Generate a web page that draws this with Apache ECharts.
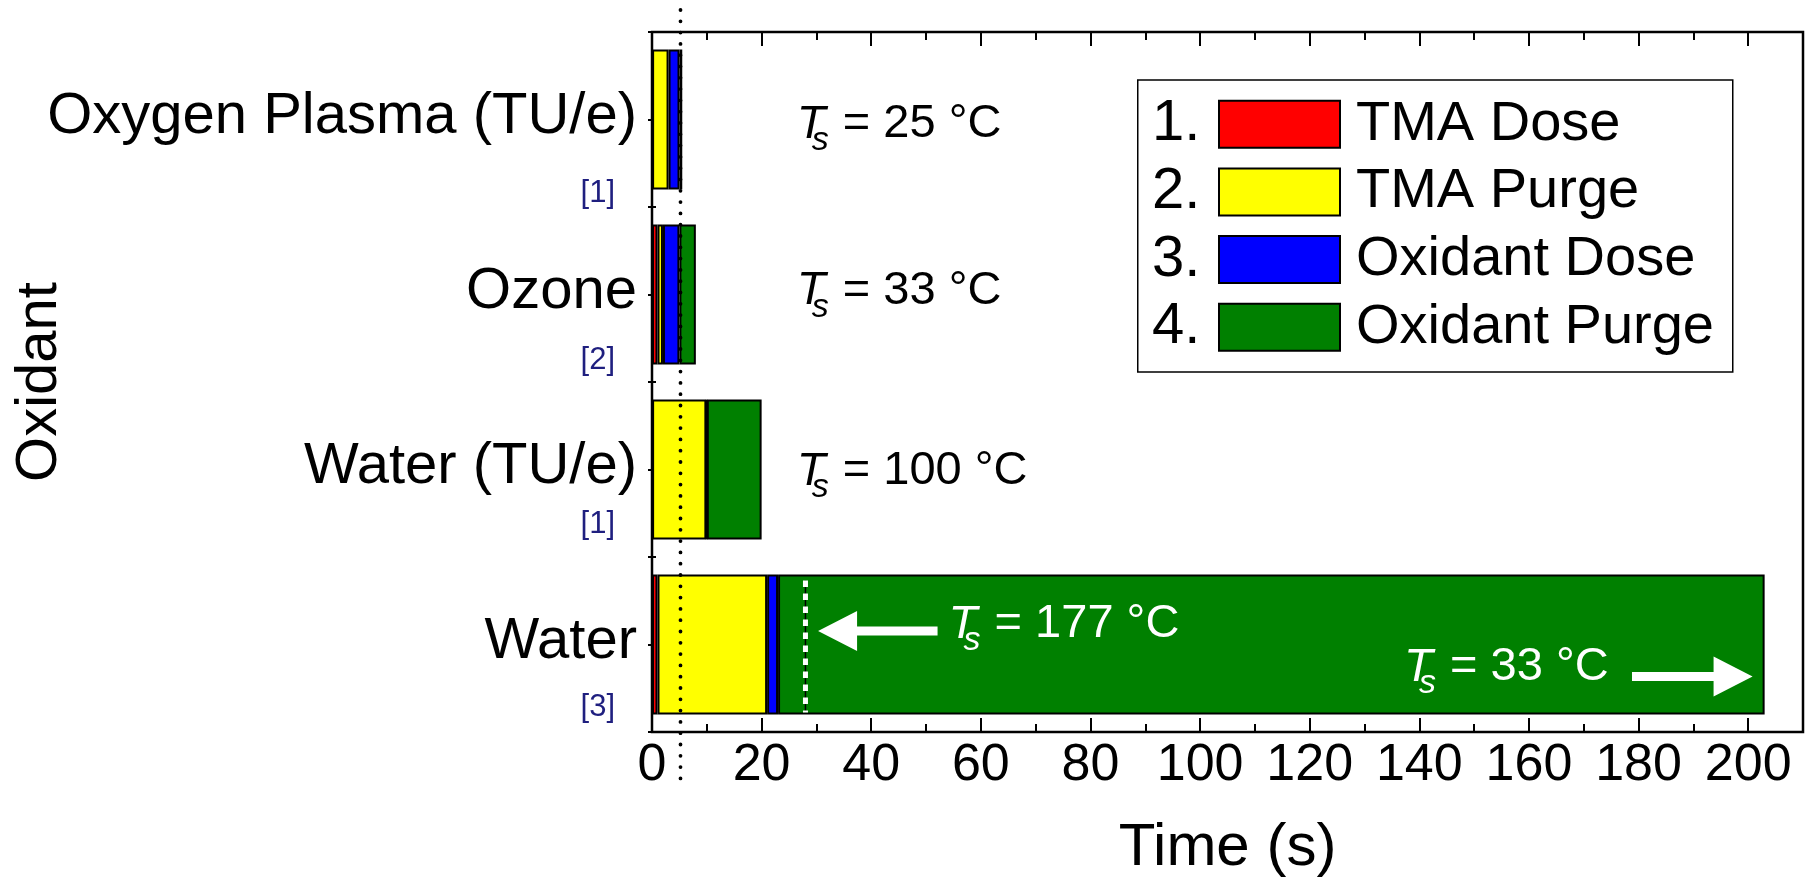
<!DOCTYPE html>
<html>
<head>
<meta charset="utf-8">
<script src="https://cdn.jsdelivr.net/npm/echarts@6/dist/echarts.min.js"></script>
<style>html,body{margin:0;padding:0;background:#fff}#chart{width:1810px;height:884px}</style>
</head>
<body>
<div id="chart"></div>
<script>
// ---------------- data ----------------
const categories = ['Oxygen Plasma (TU/e)', 'Ozone', 'Water (TU/e)', 'Water'];
const references = ['[1]', '[2]', '[1]', '[3]'];
const seriesNames = ['TMA Dose', 'TMA Purge', 'Oxidant Dose', 'Oxidant Purge'];
const tmaDose      = [0.02, 1, 0.02, 1];
const tmaPurge     = [3,    1, 9.9,  20];
const oxidantDose  = [2,    3, 0.08, 2];
const oxidantPurge = [0.5,  3, 10,   180];
const substrateTemps = ['25', '33', '100', '177', '33'];
const tempCategory   = [0, 1, 2, 3, 3];
const dottedLineTime = 5.2;     // s
const purgeEnd177 = 28;         // s, end of purge at Ts = 177 °C

// ---------------- layout / style ----------------
const FONT = '"Liberation Sans", Arial, Helvetica, sans-serif';
const COLORS = ['#ff0000', '#ffff00', '#0000ff', '#008000'];
const REF_COLOR = '#1f1f7f';
const TEMP_X  = [26.6, 26.6, 26.6, 54.3, 137.4];
const TEMP_DY = [5, -3.5, 2, -20, 23];
const TEMP_FILL = ['#000', '#000', '#000', '#fff', '#fff'];
const ARROWS = [
  {from: 52.1, to: 30.3, cat: 3, dy: -13.5},
  {from: 178.8, to: 200.8, cat: 3, dy: 32}
];
const NAME_LH = [148, 132, 110, 126];
const REF_LH = 5;

const seriesData = [tmaDose, tmaPurge, oxidantDose, oxidantPurge];

const rich = {};
categories.forEach((c, i) => {
  rich['n' + i] = {fontSize: 58, fontFamily: FONT, color: '#000', lineHeight: NAME_LH[i], align: 'right'};
  rich['r' + i] = {fontSize: 31, fontFamily: FONT, color: REF_COLOR, lineHeight: REF_LH, align: 'right', padding: [0, 22, 0, 0]};
});

const tickStyle = {color: '#000', width: 2};
const xBase = {type: 'value', min: 0, max: 210, splitLine: {show: false}, axisLine: {show: false}};
const yBase = {type: 'category', data: categories, inverse: true, axisLine: {show: false}, splitLine: {show: false}};

const barSeries = seriesNames.map((n, k) => ({
  name: n, type: 'bar', stack: 'cycle', xAxisIndex: 0, yAxisIndex: 0,
  barWidth: '80%', data: seriesData[k],
  itemStyle: {color: COLORS[k], borderColor: '#000', borderWidth: 2},
  emphasis: {disabled: true}, z: 2
}));

const dottedSeries = {
  type: 'custom', name: 'dotted', xAxisIndex: 0, yAxisIndex: 0, z: 10, clip: false,
  encode: {x: 0, y: 1}, data: [[dottedLineTime, 0]], silent: true,
  renderItem: function (params, api) {
    const cs = params.coordSys;
    const x = api.coord([api.value(0), 0])[0];
    const dots = [];
    for (let y = cs.y - 22; y <= cs.y + cs.height + 48; y += 11.3) {
      dots.push({type: 'circle', shape: {cx: x, cy: y, r: 1.9}, style: {fill: '#000'}});
    }
    return {type: 'group', children: dots};
  }
};

const markerSeries = {
  type: 'custom', name: 'marker', xAxisIndex: 0, yAxisIndex: 0, z: 9, silent: true,
  encode: {x: 0, y: 1}, data: [[purgeEnd177, 3]],
  renderItem: function (params, api) {
    const p = api.coord([api.value(0), api.value(1)]);
    const half = api.size([0, 1])[1] * 0.4;
    return {type: 'group', children: [
      {type: 'line', shape: {x1: p[0], y1: p[1] - half + 6, x2: p[0], y2: p[1] + half - 2}, style: {stroke: '#000', lineWidth: 1.5}},
      {type: 'line', shape: {x1: p[0], y1: p[1] - half + 6, x2: p[0], y2: p[1] + half - 2}, style: {stroke: '#fff', lineWidth: 5, lineDash: [6.5, 6.5]}}
    ]};
  }
};

const tempSeries = {
  type: 'custom', name: 'temps', xAxisIndex: 0, yAxisIndex: 0, z: 11, silent: true,
  encode: {x: 0, y: 1}, data: substrateTemps.map((t, i) => [TEMP_X[i], tempCategory[i]]),
  renderItem: function (params, api) {
    const i = params.dataIndex;
    const p = api.coord([api.value(0), api.value(1)]);
    const x = p[0] - 1, y = p[1] + TEMP_DY[i];
    const c = TEMP_FILL[i];
    return {type: 'group', children: [
      {type: 'text', style: {text: 'T', x: x, y: y, fill: c, font: 'italic 47px ' + FONT, align: 'left', verticalAlign: 'middle'}},
      {type: 'text', style: {text: 's', x: x + 15, y: y + 16.5, fill: c, font: 'italic 34px ' + FONT, align: 'left', verticalAlign: 'middle'}},
      {type: 'text', style: {text: '= ' + substrateTemps[i] + ' \u00b0C', x: x + 46, y: y, fill: c, font: '47px ' + FONT, align: 'left', verticalAlign: 'middle'}}
    ]};
  }
};

const arrowSeries = {
  type: 'custom', name: 'arrows', xAxisIndex: 0, yAxisIndex: 0, z: 11, silent: true,
  encode: {x: 0, y: 2}, data: ARROWS.map(a => [a.from, a.to, a.cat]),
  renderItem: function (params, api) {
    const a = ARROWS[params.dataIndex];
    const p1 = api.coord([api.value(0), api.value(2)]);
    const p2 = api.coord([api.value(1), api.value(2)]);
    const y = p1[1] + a.dy;
    const x1 = p1[0], x2 = p2[0];
    const d = x2 > x1 ? 1 : -1;
    const L = 39, H = 20, h = 4.5;
    return {type: 'polygon', shape: {points: [
      [x1, y - h], [x2 - d * L, y - h], [x2 - d * L, y - H], [x2, y],
      [x2 - d * L, y + H], [x2 - d * L, y + h], [x1, y + h]
    ]}, style: {fill: '#fff'}};
  }
};

const chart = echarts.init(document.getElementById('chart'), null, {renderer: 'canvas'});
chart.setOption({
  animation: false,
  backgroundColor: '#fff',
  grid: {left: 652, top: 32, width: 1151, height: 700, show: true, borderColor: '#000', borderWidth: 2.5,
    backgroundColor: 'transparent', containLabel: false, outerBoundsMode: 'none'},
  graphic: [{
    type: 'rect', left: 1137, top: 79.3, z: 0, silent: true,
    shape: {width: 595, height: 292}, style: {fill: '#fff', stroke: '#000', lineWidth: 1.5}
  }],
  legend: [
    {
      data: seriesNames, orient: 'vertical', left: 1146, top: 95.2, padding: 0,
      icon: 'none', itemWidth: 1, itemHeight: 47, itemGap: 9.7, selectedMode: false,
      formatter: name => (seriesNames.indexOf(name) + 1) + '.',
      textStyle: {fontSize: 58, color: '#000', fontFamily: FONT}
    },
    {
      data: seriesNames, orient: 'vertical', left: 1218, top: 96.2, padding: 0,
      icon: 'rect', itemWidth: 121, itemHeight: 47, itemGap: 11.7, selectedMode: false,
      itemStyle: {borderColor: '#000', borderWidth: 2},
      textStyle: {fontSize: 56, color: '#000', fontFamily: FONT, padding: [0, 0, 0, 11]}
    }
  ],
  xAxis: [
    Object.assign({}, xBase, {position: 'bottom', interval: 20,
      axisTick: {show: true, inside: true, length: 14, lineStyle: tickStyle},
      axisLabel: {fontSize: 52, color: '#000', fontFamily: FONT, margin: 8, formatter: v => (v % 20 === 0 ? String(v) : '')},
      name: 'Time (s)', nameLocation: 'middle', nameGap: 86, nameMoveOverlap: false,
      nameTextStyle: {fontSize: 60, color: '#000', fontFamily: FONT}}),
    Object.assign({}, xBase, {position: 'bottom', interval: 10,
      axisTick: {show: true, inside: true, length: 8, lineStyle: tickStyle}, axisLabel: {show: false}}),
    Object.assign({}, xBase, {position: 'top', interval: 20,
      axisTick: {show: true, inside: true, length: 14, lineStyle: tickStyle}, axisLabel: {show: false}}),
    Object.assign({}, xBase, {position: 'top', interval: 10,
      axisTick: {show: true, inside: true, length: 8, lineStyle: tickStyle}, axisLabel: {show: false}})
  ],
  yAxis: [
    Object.assign({}, yBase, {position: 'left',
      axisTick: {show: true, inside: true, length: 4, interval: 0, lineStyle: tickStyle},
      axisLabel: {interval: 0, margin: 15, rich: rich,
        formatter: (value, index) => '{n' + index + '|' + value + '}\n{r' + index + '|' + references[index] + '}'},
      name: 'Oxidant', nameLocation: 'middle', nameRotate: 90, nameGap: 583, nameMoveOverlap: false,
      nameTextStyle: {fontSize: 58, color: '#000', fontFamily: FONT}}),
    Object.assign({}, yBase, {position: 'left',
      axisTick: {show: true, inside: true, length: 4, interval: 0, alignWithLabel: true, lineStyle: tickStyle}, axisLabel: {show: false}}),
    Object.assign({}, yBase, {position: 'right',
      axisTick: {show: true, inside: true, length: 4, interval: 0, lineStyle: tickStyle}, axisLabel: {show: false}}),
    Object.assign({}, yBase, {position: 'right',
      axisTick: {show: true, inside: true, length: 4, interval: 0, alignWithLabel: true, lineStyle: tickStyle}, axisLabel: {show: false}})
  ],
  series: barSeries.concat([markerSeries, dottedSeries, tempSeries, arrowSeries])
});
</script>
</body>
</html>
